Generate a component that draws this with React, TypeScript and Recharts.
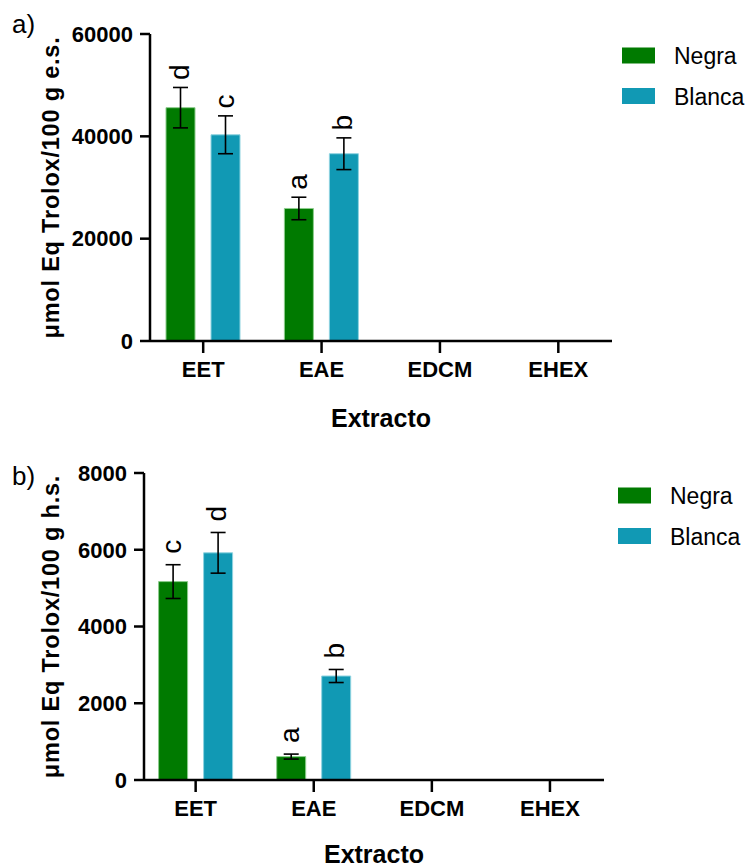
import React from 'react';
import { BarChart, Bar, XAxis, YAxis, ErrorBar, LabelList, Legend, Label } from 'recharts';

const FONT = '"Liberation Sans", Arial, sans-serif';
const GREEN = '#007a00';
const BLUE = '#1199b4';

const categories = ['EET', 'EAE', 'EDCM', 'EHEX'];
const seriesNames = ['Negra', 'Blanca'];

// a) dry basis (e.s.)
const negraSeco: (number | null)[] = [45600, 25900, null, null];
const negraSecoErr: (number | null)[] = [3950, 2200, null, null];
const blancaSeco: (number | null)[] = [40300, 36600, null, null];
const blancaSecoErr: (number | null)[] = [3700, 3100, null, null];
const letrasNegraSeco = ['d', 'a', '', ''];
const letrasBlancaSeco = ['c', 'b', '', ''];
const ticksSeco = [0, 20000, 40000, 60000];

// b) wet basis (h.s.)
const negraHumedo: (number | null)[] = [5170, 610, null, null];
const negraHumedoErr: (number | null)[] = [440, 65, null, null];
const blancaHumedo: (number | null)[] = [5920, 2710, null, null];
const blancaHumedoErr: (number | null)[] = [530, 170, null, null];
const letrasNegraHumedo = ['c', 'a', '', ''];
const letrasBlancaHumedo = ['d', 'b', '', ''];
const ticksHumedo = [0, 2000, 4000, 6000, 8000];

type Panel = {
  tag: string;
  yTitle: string;
  negra: (number | null)[];
  negraErr: (number | null)[];
  blanca: (number | null)[];
  blancaErr: (number | null)[];
  letrasNegra: string[];
  letrasBlanca: string[];
  ticks: number[];
  top: number;
  height: number;
  yAxisWidth: number;
  margin: { top: number; right: number; bottom: number; left: number };
  padding: { left: number; right: number };
  letterGap: number;
  legendLeft: number;
  tagTop: number;
  titleOffset: number;
};

const panels: Panel[] = [
  {
    tag: 'a)',
    yTitle: 'μmol Eq Trolox/100 g e.s.',
    negra: negraSeco,
    negraErr: negraSecoErr,
    blanca: blancaSeco,
    blancaErr: blancaSecoErr,
    letrasNegra: letrasNegraSeco,
    letrasBlanca: letrasBlancaSeco,
    ticks: ticksSeco,
    top: 0,
    height: 440,
    yAxisWidth: 150,
    margin: { top: 34, right: 137, bottom: 39, left: 0 },
    padding: { left: -6, right: -5.5 },
    letterGap: 7.5,
    legendLeft: 622,
    tagTop: 11,
    titleOffset: 86,
  },
  {
    tag: 'b)',
    yTitle: 'μmol Eq Trolox/100 g h.s.',
    negra: negraHumedo,
    negraErr: negraHumedoErr,
    blanca: blancaHumedo,
    blancaErr: blancaHumedoErr,
    letrasNegra: letrasNegraHumedo,
    letrasBlanca: letrasBlancaHumedo,
    ticks: ticksHumedo,
    top: 440,
    height: 427,
    yAxisWidth: 144,
    margin: { top: 33, right: 145, bottom: 27, left: 0 },
    padding: { left: -7.4, right: -5 },
    letterGap: 11,
    legendLeft: 618,
    tagTop: 23,
    titleOffset: 83,
  },
];

// rotated significance letter sitting above the error bar cap
const letterContent = (values: (number | null)[], errs: (number | null)[], gap: number) => (props: any) => {
  const vb = props.viewBox ?? props;
  const idx = props.index;
  const v = values[idx];
  const e = errs[idx];
  if (!props.value || v == null || !vb) return null;
  const h = Math.abs(vb.height);
  const errPx = e ? (e * h) / v : 0;
  const fs = 28;
  const cx = vb.x + vb.width / 2 + fs * 0.29;
  const cy = Math.min(vb.y, vb.y + vb.height) - errPx - gap;
  return (
    <text
      x={cx}
      y={cy}
      transform={`rotate(-90 ${cx} ${cy})`}
      textAnchor="start"
      fontFamily={FONT}
      fontSize={fs}
      fill="#000"
    >
      {props.value}
    </text>
  );
};

const legendContent = (props: any) => {
  const items = [...(props.payload || [])].sort(
    (a: any, b: any) => seriesNames.indexOf(a.value) - seriesNames.indexOf(b.value)
  );
  return (
    <svg width={130} height={90}>
      {items.map((it: any, i: number) => (
        <g key={it.value}>
          <rect x={0} y={7.5 + i * 40.5} width={33} height={16} fill={it.color} />
          <text x={52} y={24 + i * 40.5} fontFamily={FONT} fontSize={23} fill="#000">
            {it.value}
          </text>
        </g>
      ))}
    </svg>
  );
};

function PanelChart({ p }: { p: Panel }) {
  const rows = categories.map((c, i) => ({
    extracto: c,
    negra: p.negra[i],
    negraErr: p.negraErr[i],
    letraNegra: p.letrasNegra[i],
    blanca: p.blanca[i],
    blancaErr: p.blancaErr[i],
    letraBlanca: p.letrasBlanca[i],
  }));
  const max = p.ticks[p.ticks.length - 1];
  const axisStyle = { stroke: '#000', strokeWidth: 2.5 };
  const tickStyle = { fill: '#000', fontFamily: FONT, fontSize: 22, fontWeight: 700 };

  return (
    <div style={{ position: 'absolute', left: 0, top: p.top, width: 749, height: p.height }}>
      <div
        style={{
          position: 'absolute',
          left: 12,
          top: p.tagTop,
          fontFamily: FONT,
          fontSize: 26,
          lineHeight: '26px',
          color: '#000',
        }}
      >
        {p.tag}
      </div>
      <BarChart width={749} height={p.height} data={rows} margin={p.margin} barSize={29} barGap={16}>
        <XAxis
          dataKey="extracto"
          padding={p.padding}
          axisLine={axisStyle}
          tickLine={axisStyle}
          tickSize={12}
          tickMargin={8}
          tick={tickStyle}
          height={60}
          interval={0}
        >
          <Label
            content={(lp: any) => {
              const vb = lp.viewBox;
              return (
                <text
                  x={vb.x + vb.width / 2}
                  y={vb.y + p.titleOffset}
                  textAnchor="middle"
                  fontFamily={FONT}
                  fontSize={25}
                  fontWeight={700}
                  fill="#000"
                >
                  Extracto
                </text>
              );
            }}
          />
        </XAxis>
        <YAxis
          width={p.yAxisWidth}
          domain={[0, max]}
          ticks={p.ticks}
          interval={0}
          axisLine={axisStyle}
          tickLine={axisStyle}
          tickSize={10}
          tickMargin={7}
          tick={tickStyle}
        >
          <Label
            content={(lp: any) => {
              const vb = lp.viewBox;
              const cx = 58.5;
              const cy = vb.y + vb.height / 2;
              return (
                <text
                  x={cx}
                  y={cy}
                  transform={`rotate(-90 ${cx} ${cy})`}
                  textAnchor="middle"
                  fontFamily={FONT}
                  fontSize={23.5}
                  fontWeight={700}
                  letterSpacing={0.8}
                  fill="#000"
                >
                  {p.yTitle}
                </text>
              );
            }}
          />
        </YAxis>
        <Legend
          layout="vertical"
          align="center"
          verticalAlign="middle"
          content={legendContent}
          wrapperStyle={{ position: 'absolute', left: p.legendLeft, top: 40, width: 130, height: 90 }}
        />
        <Bar dataKey="negra" name="Negra" fill={GREEN} stroke="#8ccc8c" strokeWidth={1} isAnimationActive={false}>
          <ErrorBar dataKey="negraErr" direction="y" width={7.5} stroke="#000" strokeWidth={1.6} />
          <LabelList dataKey="letraNegra" content={letterContent(p.negra, p.negraErr, p.letterGap)} />
        </Bar>
        <Bar dataKey="blanca" name="Blanca" fill={BLUE} stroke="#8fd3e0" strokeWidth={1} isAnimationActive={false}>
          <ErrorBar dataKey="blancaErr" direction="y" width={7.5} stroke="#000" strokeWidth={1.6} />
          <LabelList dataKey="letraBlanca" content={letterContent(p.blanca, p.blancaErr, p.letterGap)} />
        </Bar>
      </BarChart>
    </div>
  );
}

export default function App() {
  return (
    <div style={{ position: 'absolute', left: 0, top: 0, width: 749, height: 867, background: '#fff' }}>
      {panels.map((p) => (
        <PanelChart key={p.tag} p={p} />
      ))}
    </div>
  );
}
